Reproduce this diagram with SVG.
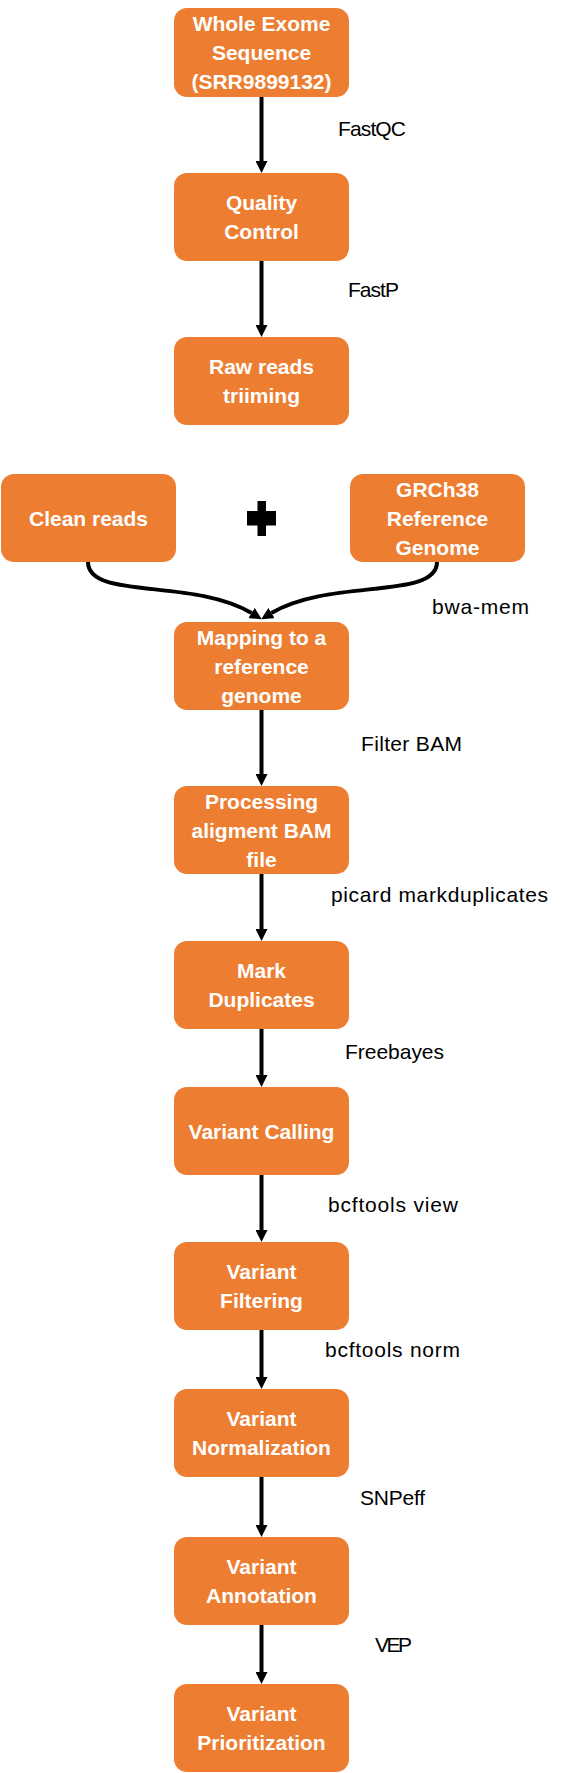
<svg xmlns="http://www.w3.org/2000/svg" width="569" height="1773" viewBox="0 0 569 1773">
<style>
.box{fill:#ED7D31;}
.bt{font-family:"Liberation Sans",Arial,sans-serif;font-weight:bold;font-size:21px;fill:#FFFFFF;text-anchor:middle;}
.lbl{font-family:"Liberation Sans",Arial,sans-serif;font-size:21px;fill:#000000;}
.conn{stroke:#000000;stroke-width:4;fill:none;marker-end:url(#ah);}
</style>
<defs>
<marker id="ah" markerUnits="userSpaceOnUse" markerWidth="12" markerHeight="12" refX="0" refY="6" orient="auto">
<path d="M0,0 L12,6 L0,12 z" fill="#000000"/>
</marker>
</defs>
<rect x="0" y="0" width="569" height="1773" fill="#FFFFFF"/>

<g id="connectors">
<line class="conn" x1="261.5" y1="97" x2="261.5" y2="161"/>
<line class="conn" x1="261.5" y1="261" x2="261.5" y2="325"/>
<path class="conn" d="M88,562 C88,600 193,578 251.5,613"/>
<path class="conn" d="M437,562 C437,600 330,578 271.5,613"/>
<line class="conn" x1="261.5" y1="710" x2="261.5" y2="774"/>
<line class="conn" x1="261.5" y1="874" x2="261.5" y2="929"/>
<line class="conn" x1="261.5" y1="1029" x2="261.5" y2="1075"/>
<line class="conn" x1="261.5" y1="1175" x2="261.5" y2="1230"/>
<line class="conn" x1="261.5" y1="1330" x2="261.5" y2="1377"/>
<line class="conn" x1="261.5" y1="1477" x2="261.5" y2="1525"/>
<line class="conn" x1="261.5" y1="1625" x2="261.5" y2="1672"/>
</g>

<g id="labels">
<text class="lbl" x="338" y="136" textLength="68">FastQC</text>
<text class="lbl" x="348" y="297" textLength="51">FastP</text>
<text class="lbl" x="432" y="614" textLength="97">bwa-mem</text>
<text class="lbl" x="361" y="751" textLength="101">Filter BAM</text>
<text class="lbl" x="331" y="902" textLength="217">picard markduplicates</text>
<text class="lbl" x="345" y="1059" textLength="99">Freebayes</text>
<text class="lbl" x="328" y="1212" textLength="130">bcftools view</text>
<text class="lbl" x="325" y="1357" textLength="135">bcftools norm</text>
<text class="lbl" x="360" y="1505" textLength="65">SNPeff</text>
<text class="lbl" x="375" y="1652" textLength="37">VEP</text>
</g>

<g id="plus">
<polygon points="257.5,501 266,501 266,511 276,511 276,525.5 266,525.5 266,536 257.5,536 257.5,525.5 247,525.5 247,511 257.5,511" fill="#000000"/>
</g>

<g id="n-wes">
<rect class="box" x="174" y="8" width="175" height="89" rx="13"/>
<text class="bt" x="261.5" y="31">Whole Exome</text>
<text class="bt" x="261.5" y="60">Sequence</text>
<text class="bt" x="261.5" y="89">(SRR9899132)</text>
</g>
<g id="n-qc">
<rect class="box" x="174" y="173" width="175" height="88" rx="13"/>
<text class="bt" x="261.5" y="210">Quality</text>
<text class="bt" x="261.5" y="239">Control</text>
</g>
<g id="n-trim">
<rect class="box" x="174" y="337" width="175" height="88" rx="13"/>
<text class="bt" x="261.5" y="374">Raw reads</text>
<text class="bt" x="261.5" y="403">triiming</text>
</g>
<g id="n-clean">
<rect class="box" x="1" y="474" width="175" height="88" rx="13"/>
<text class="bt" x="88.5" y="525.5">Clean reads</text>
</g>
<g id="n-ref">
<rect class="box" x="350" y="474" width="175" height="88" rx="13"/>
<text class="bt" x="437.5" y="496.5">GRCh38</text>
<text class="bt" x="437.5" y="525.5">Reference</text>
<text class="bt" x="437.5" y="554.5">Genome</text>
</g>
<g id="n-map">
<rect class="box" x="174" y="622" width="175" height="88" rx="13"/>
<text class="bt" x="261.5" y="644.5">Mapping to a</text>
<text class="bt" x="261.5" y="673.5">reference</text>
<text class="bt" x="261.5" y="702.5">genome</text>
</g>
<g id="n-proc">
<rect class="box" x="174" y="786" width="175" height="88" rx="13"/>
<text class="bt" x="261.5" y="808.5">Processing</text>
<text class="bt" x="261.5" y="837.5">aligment BAM</text>
<text class="bt" x="261.5" y="866.5">file</text>
</g>
<g id="n-dup">
<rect class="box" x="174" y="941" width="175" height="88" rx="13"/>
<text class="bt" x="261.5" y="978">Mark</text>
<text class="bt" x="261.5" y="1007">Duplicates</text>
</g>
<g id="n-call">
<rect class="box" x="174" y="1087" width="175" height="88" rx="13"/>
<text class="bt" x="261.5" y="1138.5">Variant Calling</text>
</g>
<g id="n-filt">
<rect class="box" x="174" y="1242" width="175" height="88" rx="13"/>
<text class="bt" x="261.5" y="1279">Variant</text>
<text class="bt" x="261.5" y="1308">Filtering</text>
</g>
<g id="n-norm">
<rect class="box" x="174" y="1389" width="175" height="88" rx="13"/>
<text class="bt" x="261.5" y="1426">Variant</text>
<text class="bt" x="261.5" y="1455">Normalization</text>
</g>
<g id="n-annot">
<rect class="box" x="174" y="1537" width="175" height="88" rx="13"/>
<text class="bt" x="261.5" y="1574">Variant</text>
<text class="bt" x="261.5" y="1603">Annotation</text>
</g>
<g id="n-prio">
<rect class="box" x="174" y="1684" width="175" height="88" rx="13"/>
<text class="bt" x="261.5" y="1721">Variant</text>
<text class="bt" x="261.5" y="1750">Prioritization</text>
</g>
</svg>
